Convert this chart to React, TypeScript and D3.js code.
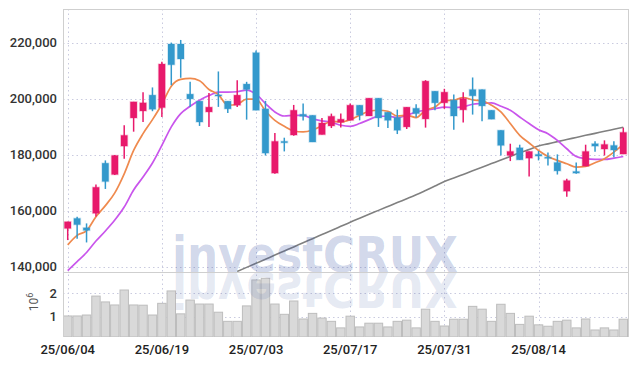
import React from "react";
import * as d3 from "d3";

const dates = ["25/06/04","25/06/05","25/06/09","25/06/10","25/06/11","25/06/12","25/06/13","25/06/16","25/06/17","25/06/18","25/06/19","25/06/20","25/06/23","25/06/24","25/06/25","25/06/26","25/06/27","25/06/30","25/07/01","25/07/02","25/07/03","25/07/04","25/07/07","25/07/08","25/07/09","25/07/10","25/07/11","25/07/14","25/07/15","25/07/16","25/07/17","25/07/18","25/07/21","25/07/22","25/07/23","25/07/24","25/07/25","25/07/28","25/07/29","25/07/30","25/07/31","25/08/01","25/08/04","25/08/05","25/08/06","25/08/07","25/08/08","25/08/11","25/08/12","25/08/13","25/08/14","25/08/18","25/08/19","25/08/20","25/08/21","25/08/22","25/08/25","25/08/26","25/08/27","25/08/28"];

const opens = [153650,157250,153900,159050,176950,172900,183050,193100,195600,201250,196800,219500,219500,201600,199100,195250,201350,199100,197650,205200,216400,196350,173400,184750,187000,194400,194050,187150,190250,191550,192250,197650,193800,200150,195150,193250,189900,196550,192750,202650,198500,199450,196000,203250,203250,195850,188700,179700,182450,178750,180100,179100,177200,166950,174000,175900,183900,182000,183300,180200];
const closes = [156050,155000,152950,168350,170400,179700,186900,198850,198500,196200,212350,212100,214150,199900,191650,196950,201200,196350,201250,203250,195850,180550,184750,184250,195850,193700,184500,191300,193700,192650,197650,194050,200150,193100,192250,188700,196950,194650,206250,198500,202300,193800,200050,201000,197400,192650,183300,181150,178150,181150,179500,178750,174200,170750,173400,181150,183050,183650,181650,187950];
const highs = [156050,157850,155450,169300,177950,179900,190500,198850,202300,204000,213200,220000,220950,206000,199100,202050,209700,199100,206600,206000,217150,199200,187750,186050,197750,198250,194050,193100,194650,194650,198250,197650,200150,200150,195150,196100,196950,198000,206600,202650,203500,201450,202300,207550,203250,195850,188700,183900,183550,181150,181300,180800,180100,171350,177200,183550,184750,185100,184750,189650];
const lows = [149500,149950,148650,157950,167750,172700,178500,188200,191650,195500,193450,204800,207450,197050,190250,189900,197050,194900,197050,192500,195850,179700,173150,181150,186750,192150,184500,187150,189500,189650,192250,192250,193800,189900,189500,187350,189150,193250,189650,195850,196350,188900,191450,194300,191900,192650,179700,177700,178150,172200,177950,176150,172900,165000,173150,175900,181050,179700,179100,180200];

const volumes = [1030000,1030000,1070000,1880000,1630000,1500000,2140000,1500000,1490000,1070000,1570000,2100000,1120000,1710000,1540000,1540000,1190000,800000,800000,1460000,2570000,2640000,1540000,1100000,1670000,900000,1140000,940000,800000,520000,1020000,560000,720000,720000,560000,800000,850000,520000,1320000,800000,600000,890000,890000,1440000,1320000,800000,1530000,1140000,670000,1020000,650000,590000,800000,850000,520000,900000,430000,520000,430000,890000];

const maShort = [147800,151200,152850,157850,161800,166350,173150,181500,187500,192500,198000,204450,206850,207200,206350,203250,201450,197650,198000,199800,199800,195600,192250,190100,188450,188100,188800,190350,191900,191650,192500,194050,195500,195850,195500,193800,194050,193250,195850,197050,199300,199450,200400,199550,199200,197650,195250,191100,186900,184150,181500,179350,177950,176750,175550,175800,177100,178550,180900,183650];
const maLong = [138600,141800,145050,149150,152750,156650,161300,167400,172000,177000,183300,189900,194650,197300,199450,201100,202300,202300,202450,203050,201600,198250,195250,193800,194050,194050,192750,192050,191550,190500,190100,191100,192500,193700,193700,193250,194050,195250,195850,196450,196950,196800,197050,198000,198250,198500,197300,195850,193450,191100,188900,187500,185100,182100,179350,178550,178300,178300,178750,179350];
const maTrend: (number | null)[] = [null,null,null,null,null,null,null,null,null,null,null,null,null,null,null,null,null,null,138300,139750,141200,142650,144150,145600,147050,148550,150000,151450,152900,154400,155900,157300,158700,160100,161500,162900,164250,165650,167200,168800,170400,171650,172950,174250,175500,176800,178100,179350,180650,181850,183100,183850,184650,185400,186150,186900,187600,188350,189050,189750];

const priceTicks = [140000, 160000, 180000, 200000, 220000];
const volTicks = [1000000, 2000000];
const dateTickIdx = [0, 10, 20, 30, 40, 50];

const UP = "#e8196b";
const DOWN = "#3399cc";

export default function App() {
  const W = 636, H = 366;
  const L = 63, R = 628, T = 9, PB = 272, VB = 337;
  const n = dates.length;
  const x = d3.scaleBand<number>().domain(d3.range(n)).range([L, R]).padding(0);
  const step = x.step();
  const cx = (i: number) => (x(i) as number) + step / 2;
  const y = d3.scaleLinear().domain([138100, 232000]).range([PB, T]);
  const yv = d3.scaleLinear().domain([130000, 2910000]).range([VB, PB]);
  const fmt = d3.format(",");

  const lineGen = d3.line<number | null>()
    .defined((d) => d != null)
    .x((_, i) => cx(i))
    .y((d) => y(d as number))
    .curve(d3.curveMonotoneX);

  const bodyW = 6.6;
  const font = "Roboto, 'DejaVu Sans', sans-serif";

  return (
    <svg width={W} height={H} style={{ position: "absolute", left: 0, top: 0, background: "#fff" }}>
      <defs>
        <clipPath id="pclip"><rect x={L} y={T} width={R - L} height={PB - T} /></clipPath>
        <clipPath id="vclip"><rect x={L} y={PB} width={R - L} height={VB - PB} /></clipPath>
      </defs>
      <rect x={0} y={0} width={W} height={H} fill="#fff" />
      {/* grid */}
      <g stroke="#c9cadf" strokeWidth={1} strokeDasharray="1.5,3">
        {priceTicks.map((t) => (
          <line key={"pg" + t} x1={L} x2={R} y1={Math.round(y(t)) + 0.5} y2={Math.round(y(t)) + 0.5} />
        ))}
        {volTicks.map((t) => (
          <line key={"vg" + t} x1={L} x2={R} y1={Math.round(yv(t)) + 0.5} y2={Math.round(yv(t)) + 0.5} />
        ))}
        {dateTickIdx.map((i) => (
          <line key={"xg" + i} x1={Math.round(cx(i)) + 0.5} x2={Math.round(cx(i)) + 0.5} y1={T} y2={VB} />
        ))}
      </g>
      {/* volume bars */}
      <g clipPath="url(#vclip)">
        {volumes.map((v, i) => (
          <rect key={"v" + i} x={(x(i) as number) + 0.5} y={yv(v)} width={step - 1} height={VB - yv(v)}
            fill="#d9d9d9" stroke="#bdbdbd" strokeWidth={1} />
        ))}
      </g>
      {/* lines */}
      <g clipPath="url(#pclip)" fill="none">
        <path d={lineGen(maTrend) || ""} stroke="#808080" strokeWidth={1.6} />
        <path d={lineGen(maLong) || ""} stroke="#c955ec" strokeWidth={1.7} />
        <path d={lineGen(maShort) || ""} stroke="#ef8a4e" strokeWidth={1.7} />
      </g>
      {/* candles */}
      <g clipPath="url(#pclip)">
        {opens.map((o, i) => {
          const c = closes[i];
          const col = c >= o ? UP : DOWN;
          const top = y(Math.max(o, c));
          const bot = y(Math.min(o, c));
          const h = Math.max(bot - top, 1.2);
          return (
            <g key={"c" + i}>
              <line x1={cx(i)} x2={cx(i)} y1={y(highs[i])} y2={y(lows[i])} stroke={col} strokeWidth={1.5} />
              <rect x={cx(i) - bodyW / 2} y={top} width={bodyW} height={h} fill={col}
                stroke={col} strokeOpacity={0.25} strokeWidth={1.5} />
            </g>
          );
        })}
      </g>
      {/* watermark */}
      <g style={{ pointerEvents: "none" }}>
        <text id="wm" x={172} y={PB} textLength={286} lengthAdjust="spacingAndGlyphs"
          fontFamily="'DejaVu Sans', sans-serif" fontWeight={700} fontSize={50} fill="#3a55a8" fillOpacity={0.24}>investCRUX</text>
        <g clipPath="url(#vclip)">
          <g transform={`translate(0,${2 * PB}) scale(1,-1)`} opacity={0.55}>
            <use href="#wm" fill="#8080a0" />
          </g>
        </g>
      </g>
      {/* frame */}
      <g stroke="#cfcfcf" strokeWidth={1} fill="none">
        <line x1={L + 0.5} x2={L + 0.5} y1={T} y2={VB} />
        <line x1={R + 0.5} x2={R + 0.5} y1={T} y2={VB} />
        <line x1={L} x2={R} y1={T + 0.5} y2={T + 0.5} />
        <line x1={L} x2={R} y1={PB + 0.5} y2={PB + 0.5} />
      </g>
      {/* y axis labels */}
      <g fontFamily={font} fontSize={13} fontWeight={500} fill="#333" textAnchor="end">
        {priceTicks.map((t) => (
          <text key={"pl" + t} x={57} y={y(t)} dy="0.36em">{fmt(t)}</text>
        ))}
        {volTicks.map((t) => (
          <text key={"vl" + t} x={57} y={yv(t)} dy="0.36em">{t / 1000000}</text>
        ))}
      </g>
      <text transform={`translate(38,302) rotate(-90)`} fontFamily={font} fontSize={12} fill="#555" textAnchor="middle">
        10<tspan dy={-5} fontSize={9}>6</tspan>
      </text>
      {/* x axis labels */}
      <g fontFamily={font} fontSize={13} fontWeight={500} fill="#222" textAnchor="middle">
        {dateTickIdx.map((i) => (
          <text key={"xl" + i} x={cx(i)} y={354}>{dates[i]}</text>
        ))}
      </g>
    </svg>
  );
}
